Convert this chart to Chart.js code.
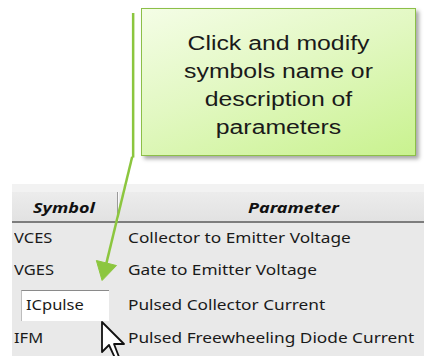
<!DOCTYPE html>
<html><head><meta charset="utf-8">
<script src="https://cdn.jsdelivr.net/npm/chart.js@4.4.0/dist/chart.umd.min.js"></script>
<style>
html,body{margin:0;padding:0;background:#fff;}
#wrap{position:relative;width:424px;height:356px;overflow:hidden;font-family:"Noto Sans",sans-serif;}
#panel{position:absolute;left:12px;top:184px;width:412px;height:172px;background:#e9e9e9;}
#strip{position:absolute;left:12px;top:184px;width:412px;height:8px;background:#f2f2f2;}
#head{position:absolute;left:12px;top:192px;width:412px;height:29px;background:linear-gradient(#ececec,#e2e2e2);border-bottom:2px solid #7d7d7d;}
#div{position:absolute;left:117px;top:192px;width:1px;height:29px;background:#9a9a9a;box-shadow:1px 0 0 #fafafa;}
.h{position:absolute;top:197px;font-weight:bold;font-style:italic;font-size:15px;color:#111;transform:scaleX(1.2);transform-origin:0 0;}
.sym{position:absolute;left:14px;font-size:15px;color:#1a1a1a;transform:scaleX(1.1);transform-origin:0 0;}
.par{position:absolute;left:128px;font-size:15px;color:#1a1a1a;white-space:nowrap;transform:scaleX(1.15);transform-origin:0 0;}
#input{position:absolute;left:21px;top:290px;width:87px;height:30px;background:#fff;border-top:1px solid #8a8a8a;border-left:1px solid #bdbdbd;}
#callout{position:absolute;left:141px;top:8px;width:273px;height:146px;border:1px solid #8cbf48;background:linear-gradient(160deg,#f4fde6 0%,#e2f8c2 45%,#c9f28f 100%);box-shadow:3px 3px 4px rgba(0,0,0,0.35);}
#ctext{position:absolute;left:141px;top:29px;width:275px;text-align:center;font-family:"Liberation Sans",Arial,sans-serif;font-size:20px;line-height:28px;color:#1a1a1a;transform:scaleX(1.24);transform-origin:center top;}
#c{position:absolute;left:0;top:0;}
#cursor{position:absolute;left:0;top:0;}
</style></head>
<body><div id="wrap">
<div id="panel"></div><div id="strip"></div><div id="head"></div><div id="div"></div>
<div class="h" style="left:33px;">Symbol</div>
<div class="h" style="left:248px;">Parameter</div>
<div id="input"></div>
<div id="rows"></div>
<div id="callout"></div>
<div id="ctext"></div>
<canvas id="c" width="424" height="356"></canvas>
<svg id="cursor" width="424" height="356"><path d="M102,322 L102,352 L109,345 L115,358 L119,357 L114,344 L124,344 Z" fill="#fff" stroke="#111" stroke-width="1.8" stroke-linejoin="round"/></svg>
</div>
<script>
const symbols = ['VCES','VGES','ICpulse','IFM'];
const parameters = ['Collector to Emitter Voltage','Gate to Emitter Voltage','Pulsed Collector Current','Pulsed Freewheeling Diode Current'];
const rowTops = [227, 259, 294, 327];
const calloutLines = ['Click and modify','symbols name or','description of','parameters'];
const leaderX = [128, 128];
const leaderY = [0, 156];
const pointerX = [127, 99];
const pointerY = [155, 272];
const arrowTip = {x: 98, y: 276};

const rows = document.getElementById('rows');
symbols.forEach((s,i)=>{
  const a=document.createElement('div');a.className='sym';a.textContent=s;a.style.top=rowTops[i]+'px';
  if(i===2){a.style.left='26px';}
  rows.appendChild(a);
  const b=document.createElement('div');b.className='par';b.textContent=parameters[i];b.style.top=rowTops[i]+'px';
  rows.appendChild(b);
});
document.getElementById('ctext').innerHTML = calloutLines.join('<br>');

const green = '#8cc63f';
new Chart(document.getElementById('c'), {
  type: 'scatter',
  data: { datasets: [
    { data: leaderX.map((x,i)=>({x, y: leaderY[i]})), showLine: true, borderColor: green, borderWidth: 2.5, pointRadius: 0 },
    { data: pointerX.map((x,i)=>({x, y: pointerY[i]})), showLine: true, borderColor: green, borderWidth: 2.5, pointRadius: 0 },
    { data: [arrowTip], pointStyle: 'triangle', pointRadius: 12, pointRotation: 194, backgroundColor: green, borderColor: green, borderWidth: 1 }
  ]},
  options: {
    responsive: false, animation: false,
    layout: { padding: 0 },
    plugins: { legend: { display: false }, tooltip: { enabled: false } },
    scales: {
      x: { type: 'linear', min: 0, max: 424, display: false },
      y: { type: 'linear', min: 0, max: 356, reverse: true, display: false }
    }
  }
});
</script>
</body></html>
